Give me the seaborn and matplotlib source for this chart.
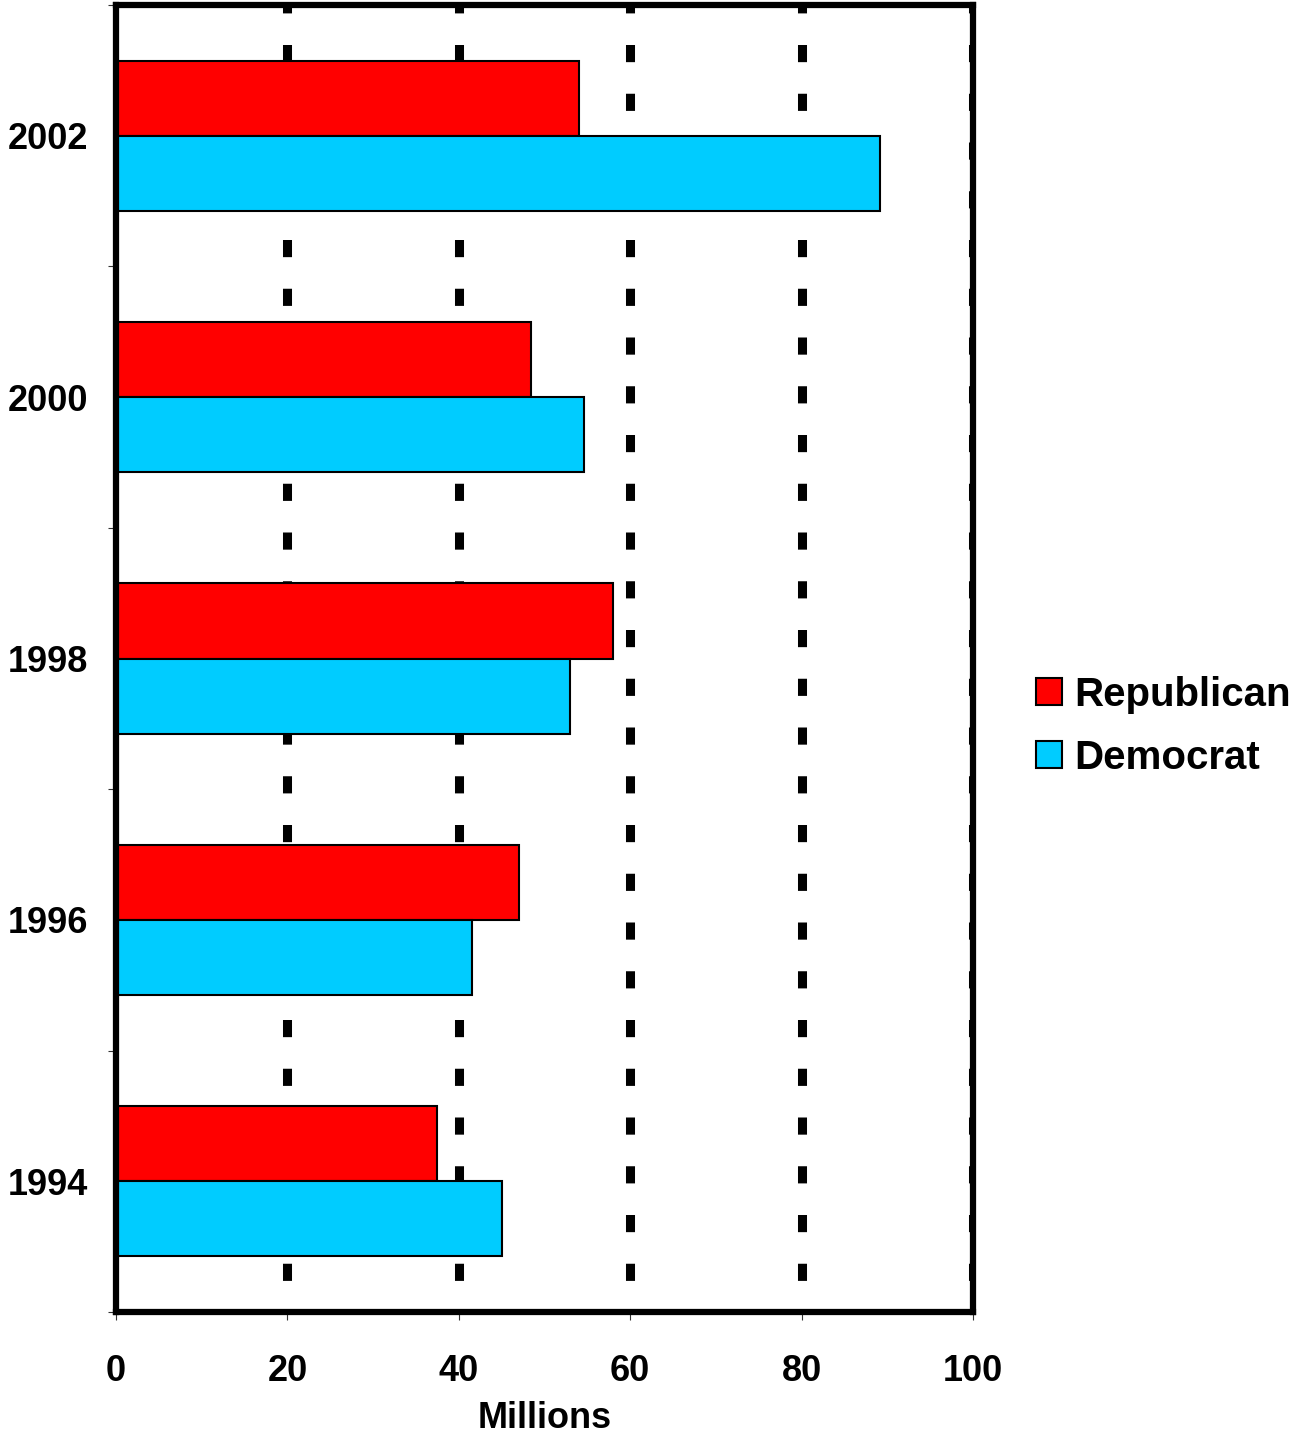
import matplotlib
matplotlib.use("Agg")
import matplotlib.pyplot as plt
import seaborn as sns
import pandas as pd
from matplotlib.ticker import FixedLocator

# values (millions)
years = ["2002", "2000", "1998", "1996", "1994"]
republican = [54.0, 48.4, 58.0, 47.0, 37.5]
democrat = [89.1, 54.6, 53.0, 41.5, 45.0]
parties = ["Republican", "Democrat"]
colors = ["#ff0000", "#00ccff"]
x_ticks = [0, 20, 40, 60, 80, 100]

df = pd.DataFrame({
    "year": years * 2,
    "party": [parties[0]] * len(years) + [parties[1]] * len(years),
    "value": republican + democrat,
})

sns.set_theme(style="white")
plt.rcParams["font.family"] = ["Liberation Sans", "DejaVu Sans"]
plt.rcParams["font.weight"] = "bold"
plt.rcParams["text.color"] = "black"
plt.rcParams["axes.labelcolor"] = "black"
plt.rcParams["xtick.labelcolor"] = "black"
plt.rcParams["ytick.labelcolor"] = "black"

fig = plt.figure(figsize=(12.94, 14.37), dpi=100)
ax = fig.add_axes([116 / 1294, 1 - 1312 / 1437, 857 / 1294, 1307 / 1437])

sns.barplot(data=df, y="year", x="value", hue="party", order=years,
            hue_order=parties, palette=colors, orient="h", width=0.574,
            edgecolor="black", linewidth=1.5, saturation=1, ax=ax)

ax.set_xlim(0, 100)
ax.set_ylim(4.5, -0.5)
ax.set_xticks(x_ticks)
ax.set_xticklabels([str(t) for t in x_ticks], fontsize=26, fontweight="bold")
ax.set_yticks(range(len(years)))
ax.set_yticklabels(years, fontsize=26, fontweight="bold")
ax.yaxis.set_minor_locator(FixedLocator([i - 0.5 for i in range(len(years) + 1)]))
ax.tick_params(axis="y", which="major", length=0, pad=20)
ax.tick_params(axis="y", which="minor", left=True, length=6, width=0.8, color="#333333")
ax.tick_params(axis="x", which="major", bottom=True, length=6, width=0.8,
               color="#333333", pad=24)
ax.set_ylabel("")
ax.set_xlabel("Millions", fontsize=26, fontweight="bold", labelpad=9)

# thick dashed vertical grid (none at 0, spine covers it)
ax.set_axisbelow(True)
ax.grid(axis="x", color="black", linewidth=6.5, linestyle=(1.9, (1.9, 3.5)))
ax.grid(axis="y", visible=False)
ax.get_xgridlines()[0].set_visible(False)

for s in ax.spines.values():
    s.set_visible(True)
    s.set_color("black")
    s.set_linewidth(4.5)

leg = ax.legend(loc="center left", bbox_to_anchor=(1.0735, 0.448), frameon=False,
                fontsize=29, handlelength=0.65, handleheight=0.65,
                handletextpad=0.3, labelspacing=0.62, borderpad=0,
                borderaxespad=0)
for t in leg.get_texts():
    t.set_fontweight("bold")
for h in leg.legend_handles:
    h.set_edgecolor("black")
    h.set_linewidth(1.5)

fig.savefig("out.png", dpi=100)
